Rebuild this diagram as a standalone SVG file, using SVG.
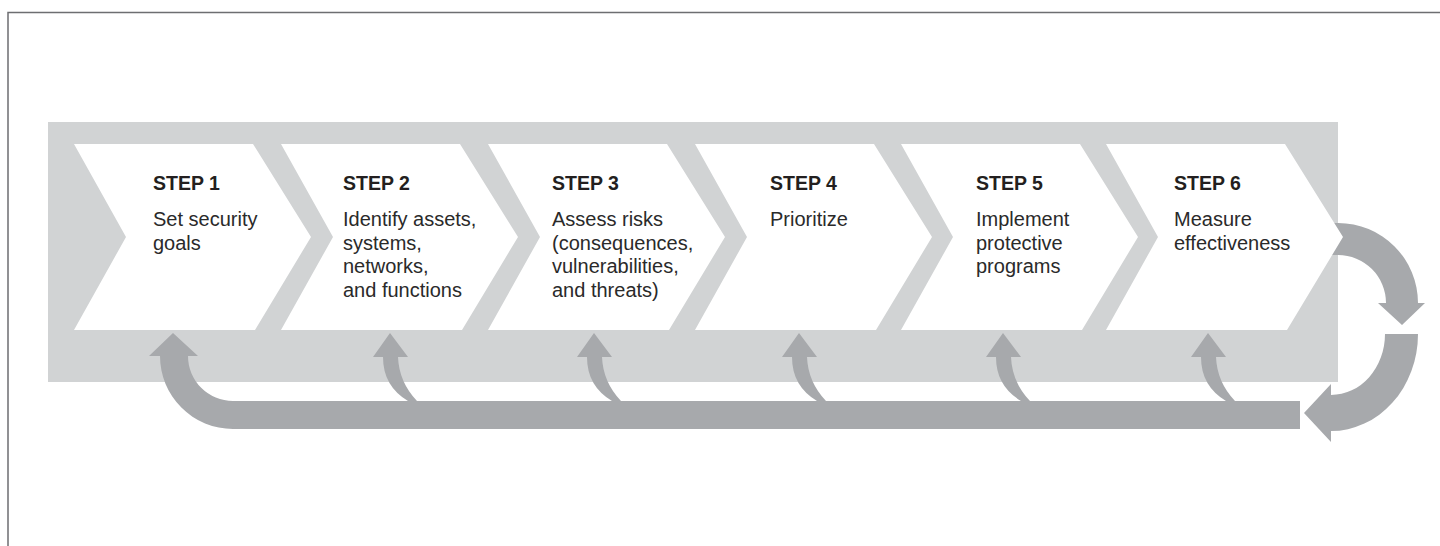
<svg xmlns="http://www.w3.org/2000/svg" width="1440" height="546" viewBox="0 0 1440 546">
<defs>
<style>
.band{fill:#d1d3d4}
.chev{fill:#ffffff}
.arr{fill:#a7a9ac}
.t{font-family:"Liberation Sans",Arial,Helvetica,sans-serif;fill:#231f20}
.h{font-size:19.5px;font-weight:bold}
.b{font-size:20px;fill:#2a2a2a}
</style>
<path id="chev" d="M0,144 H179 L237,237 L181,330 H0 L52,237 Z"/>
<path id="sa" d="M-7,357 H-17 L0,333 L18,357 H8 Q9,382 27,401 H18 Q-7,386 -7,357 Z"/>
</defs>
<rect x="0" y="0" width="1440" height="546" fill="#ffffff"/>
<path d="M8,546 V12.5 H1440" fill="none" stroke="#6d6e71" stroke-width="1.5"/>
<rect class="band" x="48" y="122" width="1290" height="260"/>
<g id="connectors" class="arr">
<path d="M1300,401 H233 A45,45 0 0 1 188,356 H198 L173,333 L149,356 H160 A73,73 0 0 0 233,429 H1300 Z"/>
<use href="#sa" x="390"/>
<use href="#sa" x="594"/>
<use href="#sa" x="799"/>
<use href="#sa" x="1003"/>
<use href="#sa" x="1208"/>
<path d="M1330,223 H1338 A80,80 0 0 1 1418,303 H1425 L1402,325 L1378,303 H1386 A48,48 0 0 0 1338,255 H1330 Z"/>
<path d="M1385,334 H1418 A87,97 0 0 1 1331,431 V442 L1304,413 L1331,384 V395 A54,61 0 0 0 1385,334 Z"/>
</g>
<g id="step1">
<use href="#chev" class="chev" x="74"/>
<text class="t h" x="153" y="190">STEP 1</text>
<text class="t b" x="153" y="226">Set security<tspan x="153" dy="23.5">goals</tspan></text>
</g>
<g id="step2">
<use href="#chev" class="chev" x="281"/>
<text class="t h" x="343" y="190">STEP 2</text>
<text class="t b" x="343" y="226">Identify assets,<tspan x="343" dy="23.5">systems,</tspan><tspan x="343" dy="23.5">networks,</tspan><tspan x="343" dy="23.5">and functions</tspan></text>
</g>
<g id="step3">
<use href="#chev" class="chev" x="488"/>
<text class="t h" x="552" y="190">STEP 3</text>
<text class="t b" x="552" y="226">Assess risks<tspan x="552" dy="23.5">(consequences,</tspan><tspan x="552" dy="23.5">vulnerabilities,</tspan><tspan x="552" dy="23.5">and threats)</tspan></text>
</g>
<g id="step4">
<use href="#chev" class="chev" x="695"/>
<text class="t h" x="770" y="190">STEP 4</text>
<text class="t b" x="770" y="226">Prioritize</text>
</g>
<g id="step5">
<use href="#chev" class="chev" x="901"/>
<text class="t h" x="976" y="190">STEP 5</text>
<text class="t b" x="976" y="226">Implement<tspan x="976" dy="23.5">protective</tspan><tspan x="976" dy="23.5">programs</tspan></text>
</g>
<g id="step6">
<use href="#chev" class="chev" x="1106"/>
<text class="t h" x="1174" y="190">STEP 6</text>
<text class="t b" x="1174" y="226">Measure<tspan x="1174" dy="23.5">effectiveness</tspan></text>
</g>
</svg>
